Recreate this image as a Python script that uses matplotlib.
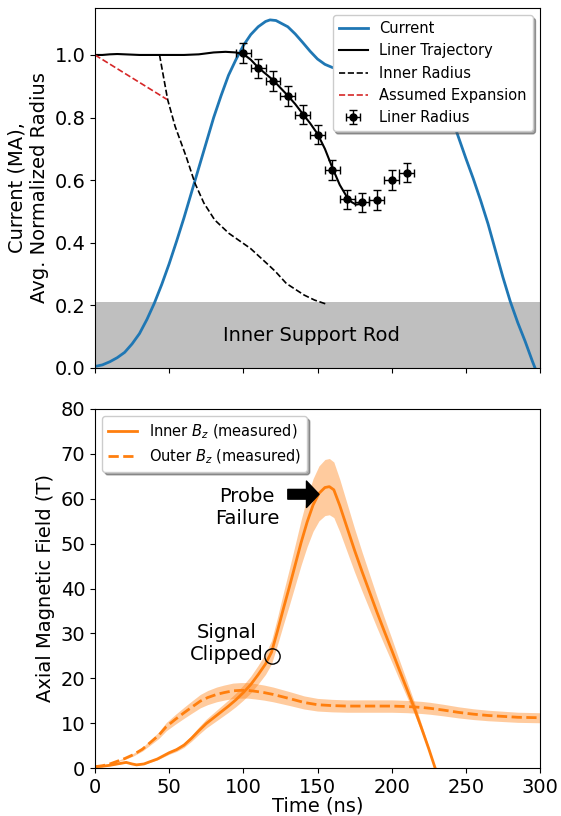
import numpy as np
import matplotlib
matplotlib.use("Agg")
import matplotlib.pyplot as plt

# --- top panel data ---
current_t = [0, 5, 10, 15, 20, 25, 30, 35, 40, 45, 50, 55, 60, 65, 70, 75, 80, 85, 90, 95,
             100, 105, 110, 115, 118, 122, 126, 130, 135, 140, 145, 150, 155, 160, 170, 180,
             190, 200, 210, 220, 230, 237, 243, 250, 255, 260, 265, 270, 275, 280, 285, 290,
             295, 300]
current = [0.005, 0.01, 0.02, 0.033, 0.05, 0.077, 0.11, 0.155, 0.207, 0.267, 0.333, 0.405,
           0.48, 0.56, 0.64, 0.72, 0.80, 0.87, 0.935, 0.985, 1.03, 1.065, 1.09, 1.107, 1.112,
           1.11, 1.10, 1.09, 1.067, 1.04, 1.012, 0.987, 0.97, 0.96, 0.945, 0.93, 0.915, 0.90,
           0.885, 0.865, 0.835, 0.805, 0.765, 0.67, 0.605, 0.535, 0.46, 0.375, 0.29, 0.212,
           0.145, 0.085, 0.02, -0.04]

traj_t = [0, 5, 10, 15, 20, 30, 40, 50, 60, 70, 80, 88, 95, 100, 105, 110, 115, 120, 125,
          130, 135, 140, 145, 150, 155, 160, 165, 170, 173, 176, 179, 181]
traj_r = [1.0, 1.0, 1.002, 1.003, 1.002, 1.0, 1.0, 1.0, 1.0, 1.002, 1.008, 1.01, 1.008,
          1.003, 0.985, 0.96, 0.94, 0.92, 0.895, 0.87, 0.843, 0.812, 0.782, 0.748, 0.70,
          0.64, 0.585, 0.545, 0.53, 0.522, 0.524, 0.53]

inner_rad_t = [43.5, 49, 54, 61.4, 67.4, 73.4, 80.7, 90.3, 104.8, 117, 121.7, 129, 141, 148, 156]
inner_rad = [1.0, 0.857, 0.772, 0.676, 0.59, 0.527, 0.473, 0.43, 0.382, 0.329, 0.308,
             0.27, 0.233, 0.217, 0.204]

expansion_t = [0, 48.5]
expansion_r = [1.0, 0.858]

liner_t = [100, 110, 120, 130, 140, 150, 160, 170, 180, 190, 200, 210]
liner_r = [1.006, 0.957, 0.917, 0.869, 0.809, 0.745, 0.633, 0.539, 0.529, 0.537, 0.601, 0.624]
liner_terr = 5
liner_rerr = 0.031

rod_radius = 0.21

# --- bottom panel data ---
inner_t = [0, 5, 10, 15, 21, 25, 28, 33, 37, 42, 46, 50, 55, 60, 65, 70, 75, 80, 85, 90,
           95, 100, 105, 110, 115, 119, 123, 127, 131, 135, 139, 143, 147, 151, 155, 158,
           161, 165, 170, 175, 180, 185, 190, 195, 200, 205, 210, 215, 220, 225, 229, 232]
inner_bz = [0.3, 0.4, 0.6, 0.9, 1.25, 0.9, 0.7, 0.9, 1.4, 2.0, 2.7, 3.4, 4.1, 5.1, 6.6, 8.3,
            9.9, 11.2, 12.5, 13.8, 15.2, 16.8, 18.6, 20.8, 23.2, 25.8, 30.5, 35.5, 40.3,
            45.3, 50.3, 54.8, 58.6, 61.2, 62.5, 62.7, 62.0, 58.5, 53.5, 48.5, 43.8, 39.3,
            34.8, 30.5, 26.3, 22.0, 17.8, 13.6, 9.0, 4.3, 0.3, -2.5]

outer_t = [0, 5, 10, 15, 20, 26, 32, 37, 43, 48, 54, 60, 65, 71, 76, 82, 87, 93, 98, 103,
           108, 114, 120, 126, 132, 141, 150, 160, 170, 180, 190, 200, 210, 220, 226, 235,
           245, 255, 265, 275, 285, 300]
outer_bz = [0.3, 0.5, 0.9, 1.5, 2.1, 3.0, 4.2, 5.6, 7.3, 9.2, 10.8, 12.3, 13.5, 14.9, 15.7,
            16.4, 16.8, 17.2, 17.3, 17.3, 17.1, 16.8, 16.4, 15.9, 15.4, 14.6, 14.1, 13.9,
            13.8, 13.8, 13.8, 13.8, 13.7, 13.5, 13.3, 12.9, 12.4, 12.0, 11.7, 11.5, 11.3, 11.2]

bz_err_frac = 0.10

clip_t, clip_bz = 119, 24.9

plt.rcParams['font.size'] = 14

fig = plt.figure(figsize=(5.61, 8.16), dpi=100)
ax1 = fig.add_axes([95 / 561, 1 - 368 / 816, 445 / 561, 360 / 816])
ax2 = fig.add_axes([95 / 561, 1 - 768 / 816, 445 / 561, 359 / 816])

ax1.axhspan(0, rod_radius, color='gray', alpha=0.5, lw=0)
ax1.text(146, rod_radius / 2, 'Inner Support Rod', ha='center', va='center', fontsize=14)
ax1.plot(current_t, current, color='tab:blue', lw=2, label='Current')
ax1.plot(traj_t, traj_r, color='k', lw=1.5, label='Liner Trajectory')
ax1.plot(inner_rad_t, inner_rad, 'k--', lw=1.2, label='Inner Radius')
ax1.plot(expansion_t, expansion_r, '--', color='tab:red', lw=1.2, label='Assumed Expansion')
ax1.errorbar(liner_t, liner_r, xerr=liner_terr, yerr=liner_rerr, fmt='o', color='k',
             ms=5, capsize=3, elinewidth=1, label='Liner Radius')
ax1.set_xlim(0, 300)
ax1.set_ylim(0, 1.15)
ax1.set_xticks(np.arange(0, 301, 50))
ax1.set_xticklabels([])
ax1.set_yticks(np.arange(0, 1.01, 0.2))
ax1.set_ylabel('Current (MA),\nAvg. Normalized Radius')
ax1.legend(loc='upper right', fontsize=10.5, shadow=True, framealpha=1)

inner_bz_a = np.array(inner_bz)
outer_bz_a = np.array(outer_bz)
ax2.fill_between(inner_t, inner_bz_a * (1 - bz_err_frac), inner_bz_a * (1 + bz_err_frac),
                 color='tab:orange', alpha=0.4, lw=0)
ax2.fill_between(outer_t, outer_bz_a * (1 - bz_err_frac), outer_bz_a * (1 + bz_err_frac),
                 color='tab:orange', alpha=0.4, lw=0)
ax2.plot(inner_t, inner_bz, color='tab:orange', lw=2, label='Inner $B_z$ (measured)')
ax2.plot(outer_t, outer_bz, '--', color='tab:orange', lw=2, label='Outer $B_z$ (measured)')
ax2.plot(clip_t, clip_bz, 'o', mfc='none', mec='k', ms=11, mew=1)
ax2.text(89, 27.8, 'Signal\nClipped', ha='center', va='center', fontsize=14)
ax2.text(102.5, 58, 'Probe\nFailure', ha='center', va='center', fontsize=14)
ax2.annotate('', xy=(151, 61), xytext=(130, 61),
             arrowprops=dict(facecolor='k', edgecolor='k', width=7, headwidth=19,
                             headlength=9, shrink=0))
ax2.set_xlim(0, 300)
ax2.set_ylim(0, 80)
ax2.set_xticks(np.arange(0, 301, 50))
ax2.set_xlabel('Time (ns)', labelpad=0)
ax2.set_ylabel('Axial Magnetic Field (T)')
ax2.legend(loc='upper left', fontsize=10.5, shadow=True)

fig.savefig('out.png', dpi=100)
